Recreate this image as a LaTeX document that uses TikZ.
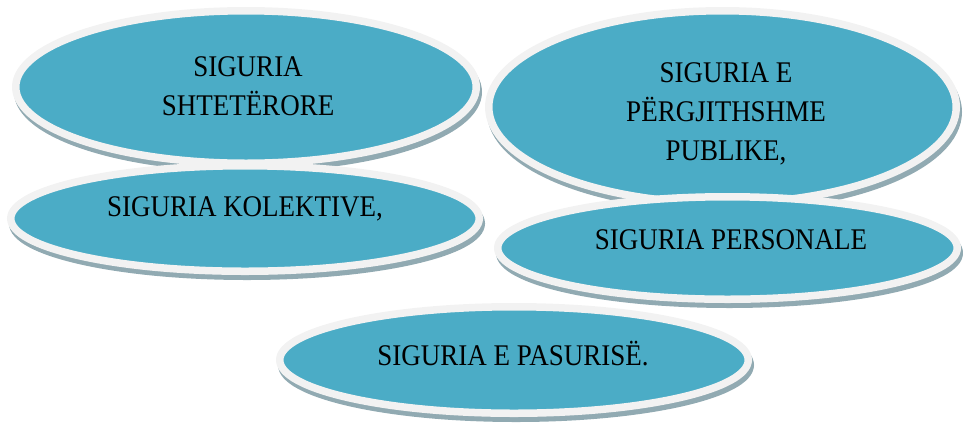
\documentclass[tikz,border=0pt]{standalone}
\usepackage{fontspec}
\setmainfont{Liberation Serif}[FakeStretch=0.9]
\usetikzlibrary{shapes.geometric,shadows}
\definecolor{tealfill}{RGB}{75,172,198}
\definecolor{rimc}{RGB}{242,242,242}
\definecolor{shadowc}{RGB}{145,170,178}
\tikzset{
  oval/.style={ellipse, inner sep=0pt, fill=tealfill, draw=rimc, line width=7.5pt,
    drop shadow={shadow xshift=2pt, shadow yshift=-5pt, fill=shadowc, draw=shadowc,
      line width=7.5pt, opacity=1}},
  lbl/.style={anchor=base, inner sep=0pt, text=black, font=\fontsize{30pt}{39pt}\selectfont}
}
\begin{document}
\begin{tikzpicture}
\useasboundingbox (0pt,0pt) rectangle (963pt,-424pt);
% ellipses: minimum size = outer size - line width
\node[oval, minimum width=460.5pt, minimum height=152.5pt] (e1) at (246pt,-87pt) {};
\node[oval, minimum width=467.5pt, minimum height=192.5pt] (e2) at (722.5pt,-107pt) {};
\node[oval, minimum width=468.5pt, minimum height=105.5pt] (e3) at (245pt,-218.5pt) {};
\node[oval, minimum width=459.5pt, minimum height=102.5pt] (e4) at (727.5pt,-248pt) {};
\node[oval, minimum width=468.5pt, minimum height=106.5pt] (e5) at (514pt,-360pt) {};
% labels
\node[lbl] (t1a) at (248pt,-76.7pt) {SIGURIA};
\node[lbl] (t1b) at (248pt,-115.7pt) {SHTETËRORE};
\node[lbl] (t2a) at (726pt,-82.7pt) {SIGURIA E};
\node[lbl] (t2b) at (726pt,-121.4pt) {PËRGJITHSHME};
\node[lbl] (t2c) at (726pt,-160pt) {PUBLIKE,};
\node[lbl] (t3) at (245pt,-216pt) {SIGURIA KOLEKTIVE,};
\node[lbl] (t4) at (731pt,-249.3pt) {SIGURIA PERSONALE};
\node[lbl] (t5) at (513pt,-365pt) {SIGURIA E PASURISË.};
\end{tikzpicture}
\end{document}
